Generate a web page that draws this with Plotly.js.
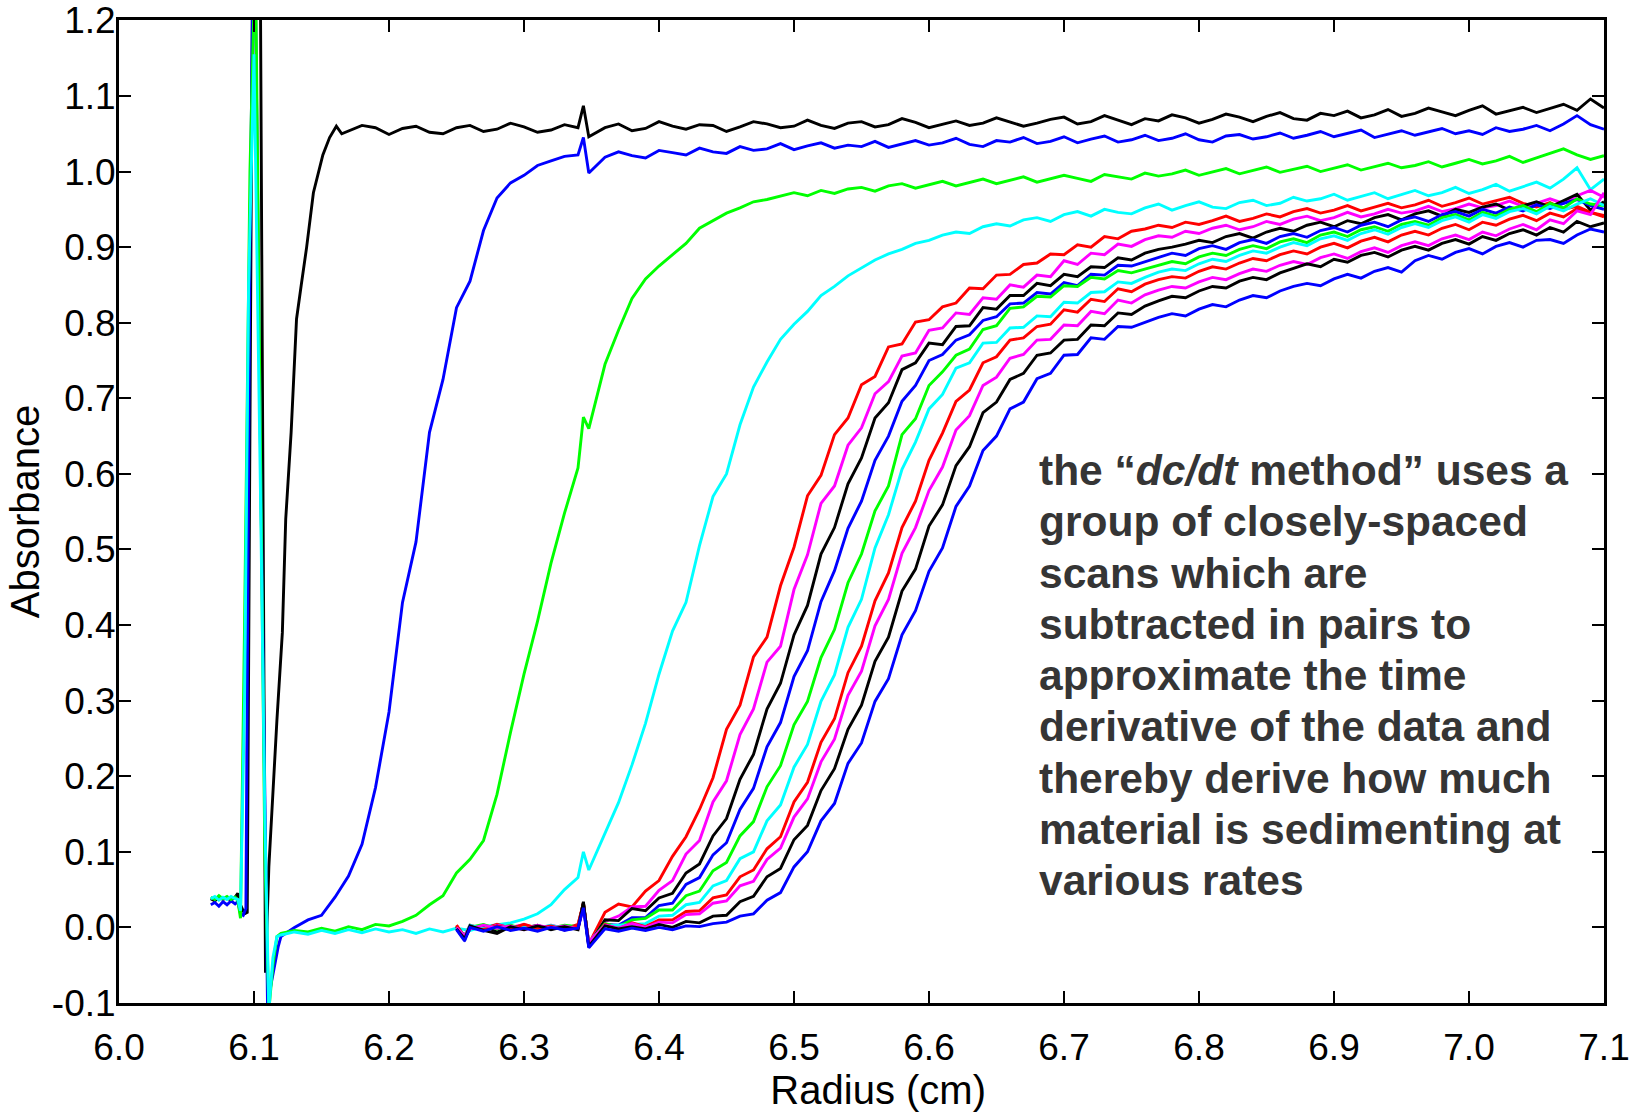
<!DOCTYPE html>
<html>
<head>
<meta charset="utf-8">
<script src="https://cdn.plot.ly/plotly-3.0.1.min.js"></script>
<style>html,body{margin:0;padding:0;background:#fff;}#chart{width:1642px;height:1112px;}</style>
</head>
<body>
<div id="chart"></div>
<script>
// ---------- shared radius grids ----------
const gridA = [6.12,6.13,6.14,6.15,6.16,6.17,6.18,6.19,6.20,6.21,6.22,6.23,6.24,6.25,6.26,6.27,6.28,6.29,6.30,6.31,6.32,6.33,6.34,6.344,6.348,
6.36,6.37,6.38,6.39,6.40,6.41,6.42,6.43,6.44,6.45,6.46,6.47,6.48,6.49,6.50,6.51,6.52,6.53,6.54,6.55,6.56,6.57,6.58,6.59,6.60,
6.61,6.62,6.63,6.64,6.65,6.66,6.67,6.68,6.69,6.70,6.71,6.72,6.73,6.74,6.75,6.76,6.77,6.78,6.79,6.80,6.81,6.82,6.83,6.84,6.85,
6.86,6.87,6.88,6.89,6.90,6.91,6.92,6.93,6.94,6.95,6.96,6.97,6.98,6.99,7.00,7.01,7.02,7.03,7.04,7.05,7.06,7.07,7.08,7.09,7.10];
const gridG = [6.25,6.256,6.26,6.27,6.28,6.29,6.30,6.31,6.32,6.33,6.34,6.344,6.348,
6.36,6.37,6.38,6.39,6.40,6.41,6.42,6.43,6.44,6.45,6.46,6.47,6.48,6.49,6.50,6.51,6.52,6.53,6.54,6.55,6.56,6.57,6.58,6.59,6.60,
6.61,6.62,6.63,6.64,6.65,6.66,6.67,6.68,6.69,6.70,6.71,6.72,6.73,6.74,6.75,6.76,6.77,6.78,6.79,6.80,6.81,6.82,6.83,6.84,6.85,
6.86,6.87,6.88,6.89,6.90,6.91,6.92,6.93,6.94,6.95,6.96,6.97,6.98,6.99,7.00,7.01,7.02,7.03,7.04,7.05,7.06,7.07,7.08,7.09,7.10];

// ---------- early scans (meniscus heads + tails) ----------
const scan1HeadX = [6.068,6.071,6.074,6.077,6.080,6.083,6.086,6.088,6.090,6.093,6.095,6.099,6.104,6.1085,6.111,6.114,6.117,6.121,6.1235,6.1275,6.1315,6.135,6.139,6.144,6.151,6.156,6.161,6.165];
const scan1HeadY = [0.038,0.035,0.040,0.037,0.039,0.036,0.040,0.045,0.030,0.018,0.020,1.30,1.50,-0.060,0.08,0.18,0.275,0.39,0.54,0.655,0.805,0.85,0.90,0.972,1.022,1.045,1.060,1.050];
const scan1Tail = [1.054,1.061,1.058,1.049,1.057,1.060,1.052,1.050,1.058,1.061,1.053,1.056,1.064,1.059,1.052,1.055,1.062,1.058,
1.087,1.046,
1.058,1.063,1.054,1.057,1.066,1.060,1.056,1.062,1.061,1.053,
1.059,1.066,1.063,1.058,1.060,1.068,1.061,1.057,1.064,1.066,
1.059,1.062,1.070,1.065,1.058,1.063,1.067,1.061,1.064,1.071,
1.066,1.060,1.064,1.069,1.072,1.063,1.066,1.074,1.068,1.062,
1.070,1.067,1.075,1.071,1.064,1.069,1.076,1.072,1.066,1.073,
1.078,1.070,1.068,1.077,1.074,1.080,1.071,1.075,1.082,1.073,
1.077,1.084,1.079,1.074,1.081,1.087,1.076,1.080,1.085,1.078,
1.083,1.089,1.081,1.096,1.084];

const scan2HeadX = [6.068,6.071,6.074,6.077,6.080,6.083,6.086,6.088,6.090,6.092,6.094,6.097,6.100,6.105,6.110,6.114,6.118];
const scan2HeadY = [0.030,0.033,0.028,0.034,0.030,0.035,0.031,0.034,0.018,0.016,0.025,0.90,1.40,0.60,-0.10,-0.06,-0.025];
const scan2Tail = [-0.012,0.000,0.010,0.016,0.040,0.068,0.110,0.185,0.285,0.430,
0.510,0.655,0.725,0.820,0.855,0.922,0.965,0.985,0.995,1.008,
1.014,1.020,1.022,
1.045,0.998,
1.019,1.026,1.021,1.018,1.028,1.025,1.022,1.031,1.026,1.024,
1.033,1.028,1.030,1.037,1.029,1.034,1.038,1.031,1.035,1.033,
1.040,1.032,1.036,1.041,1.035,1.038,1.044,1.036,1.033,1.041,
1.039,1.045,1.037,1.040,1.046,1.038,1.043,1.047,1.039,1.042,
1.048,1.041,1.044,1.050,1.042,1.039,1.047,1.049,1.043,1.046,
1.051,1.044,1.048,1.053,1.046,1.050,1.055,1.045,1.049,1.054,
1.048,1.052,1.057,1.050,1.054,1.049,1.058,1.053,1.056,1.061,
1.054,1.063,1.074,1.062,1.056];

const scan3HeadX = [6.068,6.071,6.074,6.077,6.080,6.083,6.086,6.088,6.090,6.093,6.097,6.101,6.105,6.108,6.111,6.114,6.117];
const scan3HeadY = [0.040,0.037,0.042,0.038,0.041,0.037,0.040,0.036,0.012,0.40,1.00,1.30,0.60,0.10,-0.11,-0.05,-0.012];
const scan3Tail = [-0.008,-0.004,-0.006,-0.001,-0.005,0.001,-0.003,0.004,0.002,0.008,
0.016,0.030,0.042,0.072,0.090,0.115,0.176,0.258,0.335,0.405,
0.482,0.548,0.608,
0.675,0.660,
0.745,0.790,0.832,0.858,0.875,0.890,0.905,0.925,0.935,0.945,
0.952,0.960,0.963,0.967,0.972,0.968,0.975,0.971,0.977,0.979,
0.974,0.981,0.984,0.978,0.983,0.987,0.981,0.985,0.990,0.984,
0.988,0.993,0.986,0.990,0.995,0.991,0.987,0.996,0.993,0.990,
0.998,0.994,0.997,1.002,0.995,0.999,1.004,0.997,1.001,1.006,
0.999,1.003,1.007,1.000,1.004,1.009,1.002,1.006,1.011,1.005,
1.008,1.013,1.006,1.011,1.016,1.010,1.014,1.020,1.012,1.018,
1.024,1.030,1.022,1.016,1.021];

const scan4HeadX = [6.068,6.071,6.074,6.077,6.080,6.083,6.086,6.088,6.090,6.093,6.096,6.100,6.105,6.108,6.111,6.114,6.117];
const scan4HeadY = [0.038,0.041,0.036,0.040,0.037,0.041,0.038,0.037,0.022,0.30,0.85,1.155,0.55,0.15,-0.11,-0.04,-0.012];
const scan4Tail = [-0.010,-0.006,-0.009,-0.004,-0.008,-0.003,-0.007,-0.002,-0.006,-0.003,
-0.008,-0.002,-0.006,-0.001,-0.004,0.001,0.004,0.006,0.011,0.018,
0.030,0.050,0.066,
0.100,0.076,
0.125,0.165,0.215,0.270,0.335,0.392,0.430,0.505,0.570,0.600,
0.665,0.715,0.748,0.778,0.798,0.815,0.836,0.848,0.862,0.872,
0.883,0.891,0.897,0.905,0.909,0.916,0.920,0.918,0.927,0.931,
0.928,0.936,0.939,0.934,0.943,0.947,0.941,0.950,0.946,0.944,
0.952,0.957,0.949,0.955,0.960,0.953,0.951,0.959,0.962,0.955,
0.958,0.966,0.961,0.964,0.970,0.962,0.967,0.972,0.964,0.969,
0.975,0.968,0.972,0.979,0.971,0.976,0.983,0.974,0.980,0.986,
0.978,0.990,1.005,0.976,0.990];

// ---------- closely spaced group (on gridG) ----------
const grpRed1 = [0.002,-0.012,0.003,-0.002,0.004,-0.001,0.003,-0.003,0.002,-0.002,0.004,0.032,-0.022,
0.020,0.031,0.027,0.048,0.062,0.094,0.120,0.156,0.198,0.262,
0.294,0.358,0.384,0.452,0.503,0.571,0.598,0.652,0.674,0.718,
0.729,0.768,0.772,0.801,0.804,0.821,0.826,0.846,0.845,0.863,
0.864,0.877,0.879,0.891,0.890,0.903,0.900,0.914,0.911,0.921,
0.924,0.929,0.926,0.933,0.930,0.935,0.941,0.934,0.938,0.944,
0.940,0.947,0.951,0.945,0.949,0.955,0.948,0.953,0.958,0.952,
0.956,0.962,0.954,0.959,0.965,0.957,0.961,0.966,0.958,0.953,
0.959,0.950,0.954,0.946,0.942];
const grpMag1 = [-0.001,-0.010,0.002,-0.003,0.003,0.000,0.004,-0.002,0.003,-0.001,0.002,0.030,-0.020,
0.008,0.015,0.027,0.028,0.049,0.062,0.097,0.115,0.166,0.194,
0.255,0.289,0.351,0.372,0.447,0.493,0.561,0.584,0.638,0.661,
0.706,0.722,0.756,0.760,0.790,0.793,0.813,0.811,0.833,0.831,
0.850,0.847,0.863,0.861,0.882,0.877,0.892,0.890,0.904,0.901,
0.910,0.915,0.913,0.921,0.918,0.925,0.929,0.923,0.927,0.934,
0.930,0.937,0.941,0.935,0.939,0.946,0.940,0.944,0.950,0.945,
0.948,0.954,0.947,0.951,0.957,0.952,0.955,0.961,0.954,0.958,
0.964,0.958,0.968,0.975,0.966];
const grpBlk1 = [0.001,-0.014,-0.002,0.003,-0.006,0.002,-0.001,0.003,-0.003,0.001,-0.001,0.033,-0.024,
0.010,0.009,0.025,0.022,0.039,0.045,0.072,0.084,0.121,0.144,
0.196,0.229,0.289,0.323,0.387,0.426,0.494,0.529,0.587,0.621,
0.674,0.694,0.738,0.747,0.773,0.771,0.795,0.796,0.820,0.818,
0.836,0.836,0.852,0.849,0.864,0.861,0.874,0.873,0.886,0.883,
0.892,0.897,0.900,0.904,0.909,0.906,0.914,0.918,0.912,0.920,
0.925,0.921,0.929,0.933,0.927,0.935,0.931,0.939,0.943,0.936,
0.944,0.948,0.941,0.950,0.946,0.953,0.957,0.949,0.955,0.960,
0.953,0.962,0.970,0.949,0.960];
const grpBlu1 = [-0.002,-0.016,0.001,-0.004,0.002,-0.003,0.001,-0.002,0.002,-0.004,0.000,0.028,-0.026,
0.004,0.003,0.013,0.013,0.029,0.032,0.057,0.066,0.096,0.112,
0.156,0.184,0.239,0.271,0.332,0.366,0.431,0.472,0.528,0.564,
0.618,0.650,0.696,0.717,0.750,0.758,0.777,0.784,0.803,0.808,
0.825,0.826,0.840,0.838,0.853,0.849,0.864,0.863,0.876,0.875,
0.881,0.887,0.892,0.889,0.898,0.902,0.897,0.906,0.910,0.905,
0.914,0.918,0.913,0.922,0.926,0.920,0.929,0.933,0.927,0.936,
0.940,0.934,0.943,0.947,0.941,0.950,0.945,0.953,0.948,0.956,
0.951,0.958,0.963,0.955,0.950];
const grpGrn1 = [0.002,-0.011,0.000,0.004,-0.002,0.003,-0.002,0.002,-0.001,0.003,0.001,0.030,-0.021,
0.005,0.001,0.010,0.012,0.023,0.023,0.042,0.048,0.075,0.086,
0.121,0.140,0.186,0.214,0.268,0.299,0.357,0.394,0.456,0.494,
0.551,0.584,0.652,0.673,0.717,0.735,0.757,0.765,0.791,0.796,
0.819,0.821,0.835,0.834,0.849,0.848,0.860,0.858,0.869,0.866,
0.871,0.876,0.881,0.878,0.887,0.892,0.889,0.897,0.902,0.898,
0.907,0.911,0.906,0.916,0.920,0.914,0.923,0.927,0.921,0.930,
0.934,0.929,0.939,0.943,0.936,0.946,0.941,0.950,0.955,0.947,
0.958,0.952,0.964,0.957,0.955];
const grpCyn1 = [-0.001,-0.012,0.003,-0.002,0.001,-0.003,0.002,-0.001,0.003,-0.002,0.002,0.029,-0.022,
0.002,0.003,0.004,0.005,0.015,0.016,0.030,0.033,0.055,0.062,
0.091,0.100,0.141,0.162,0.212,0.242,0.299,0.334,0.397,0.434,
0.502,0.546,0.606,0.642,0.686,0.705,0.740,0.747,0.773,0.774,
0.793,0.794,0.809,0.808,0.827,0.826,0.840,0.841,0.854,0.852,
0.860,0.867,0.871,0.869,0.878,0.884,0.881,0.889,0.895,0.892,
0.900,0.906,0.902,0.911,0.915,0.909,0.918,0.923,0.917,0.926,
0.931,0.926,0.935,0.940,0.933,0.943,0.938,0.947,0.951,0.944,
0.954,0.948,0.957,0.964,0.955];
const grpRed2 = [0.003,-0.013,0.001,-0.003,0.002,-0.002,0.004,-0.001,0.002,-0.003,0.003,0.031,-0.023,
0.004,-0.002,0.006,0.001,0.010,0.010,0.021,0.022,0.039,0.043,
0.067,0.076,0.104,0.120,0.166,0.192,0.245,0.276,0.337,0.372,
0.432,0.469,0.529,0.564,0.618,0.654,0.696,0.711,0.747,0.755,
0.777,0.780,0.795,0.798,0.817,0.814,0.831,0.828,0.845,0.841,
0.851,0.857,0.861,0.859,0.868,0.874,0.871,0.879,0.885,0.882,
0.890,0.895,0.891,0.900,0.905,0.899,0.908,0.913,0.907,0.916,
0.921,0.916,0.925,0.930,0.923,0.933,0.929,0.937,0.942,0.935,
0.945,0.940,0.951,0.946,0.940];
const grpMag2 = [0.000,-0.011,-0.002,0.003,-0.001,0.002,-0.003,0.003,-0.001,0.002,-0.002,0.028,-0.020,
0.003,-0.001,0.005,0.000,0.007,0.006,0.017,0.018,0.032,0.035,
0.055,0.061,0.090,0.105,0.146,0.170,0.219,0.249,0.307,0.339,
0.399,0.434,0.495,0.529,0.578,0.609,0.658,0.677,0.717,0.728,
0.753,0.758,0.777,0.778,0.797,0.796,0.815,0.812,0.830,0.826,
0.837,0.843,0.848,0.846,0.854,0.860,0.857,0.865,0.871,0.868,
0.876,0.881,0.877,0.886,0.891,0.885,0.894,0.899,0.893,0.902,
0.907,0.902,0.911,0.916,0.910,0.920,0.915,0.924,0.930,0.923,
0.936,0.931,0.948,0.943,0.972];
const grpBlk2 = [-0.002,-0.015,0.002,-0.004,-0.008,0.001,-0.003,0.002,-0.002,0.001,-0.003,0.034,-0.025,
0.002,-0.002,0.001,-0.002,0.004,0.000,0.008,0.006,0.015,0.016,
0.034,0.041,0.067,0.078,0.116,0.135,0.181,0.210,0.262,0.294,
0.352,0.384,0.445,0.474,0.531,0.559,0.611,0.636,0.681,0.695,
0.725,0.733,0.757,0.760,0.777,0.778,0.797,0.796,0.813,0.811,
0.822,0.829,0.835,0.833,0.842,0.848,0.846,0.855,0.860,0.857,
0.866,0.872,0.878,0.874,0.884,0.880,0.889,0.893,0.887,0.896,
0.901,0.896,0.905,0.910,0.904,0.914,0.909,0.918,0.923,0.916,
0.926,0.920,0.934,0.927,0.932];
const grpBlu2 = [-0.003,-0.018,0.000,-0.005,0.001,-0.004,-0.001,-0.005,0.000,-0.003,-0.001,0.026,-0.027,
-0.002,-0.005,-0.001,-0.004,0.000,-0.003,0.002,0.001,0.005,0.007,
0.015,0.018,0.036,0.046,0.080,0.100,0.141,0.164,0.217,0.244,
0.299,0.329,0.387,0.419,0.471,0.502,0.557,0.584,0.631,0.650,
0.686,0.695,0.726,0.733,0.757,0.758,0.780,0.778,0.795,0.794,
0.801,0.807,0.812,0.809,0.818,0.824,0.821,0.830,0.836,0.833,
0.842,0.848,0.852,0.849,0.858,0.864,0.859,0.868,0.873,0.867,
0.882,0.889,0.884,0.893,0.898,0.891,0.901,0.906,0.900,0.909,
0.910,0.905,0.916,0.924,0.920];

// ---------- ticks & text ----------
const xTickVals = [6.0,6.1,6.2,6.3,6.4,6.5,6.6,6.7,6.8,6.9,7.0,7.1];
const xTickText = ['6.0','6.1','6.2','6.3','6.4','6.5','6.6','6.7','6.8','6.9','7.0','7.1'];
const yTickVals = [-0.1,0.0,0.1,0.2,0.3,0.4,0.5,0.6,0.7,0.8,0.9,1.0,1.1,1.2];
const yTickText = ['-0.1','0.0','0.1','0.2','0.3','0.4','0.5','0.6','0.7','0.8','0.9','1.0','1.1','1.2'];
const noteLines = ['the “<i>dc/dt</i> method” uses a','group of closely-spaced','scans which are','subtracted in pairs to','approximate the time','derivative of the data and','thereby derive how much','material is sedimenting at','various rates'];

const C = {black:'#000000', blue:'#0000ff', green:'#00ff00', cyan:'#00ffff', red:'#ff0000', magenta:'#ff00ff'};
const LW = 2.9;

const series = [
  {x: scan1HeadX.concat(gridA.slice(5)), y: scan1HeadY.concat(scan1Tail), c: C.black},
  {x: scan2HeadX.concat(gridA), y: scan2HeadY.concat(scan2Tail), c: C.blue},
  {x: scan3HeadX.concat(gridA), y: scan3HeadY.concat(scan3Tail), c: C.green},
  {x: scan4HeadX.concat(gridA), y: scan4HeadY.concat(scan4Tail), c: C.cyan},
  {x: gridG, y: grpRed1, c: C.red},
  {x: gridG, y: grpMag1, c: C.magenta},
  {x: gridG, y: grpBlk1, c: C.black},
  {x: gridG, y: grpBlu1, c: C.blue},
  {x: gridG, y: grpGrn1, c: C.green},
  {x: gridG, y: grpCyn1, c: C.cyan},
  {x: gridG, y: grpRed2, c: C.red},
  {x: gridG, y: grpMag2, c: C.magenta},
  {x: gridG, y: grpBlk2, c: C.black},
  {x: gridG, y: grpBlu2, c: C.blue}
];

const traces = series.map(s => ({
  type: 'scatter', mode: 'lines', x: s.x, y: s.y,
  line: {color: s.c, width: LW}, hoverinfo: 'skip'
}));

const FONT = 'Liberation Sans, Arial, Helvetica, sans-serif';
const axisCommon = {
  showline: true, linewidth: 3, linecolor: '#000', mirror: 'ticks',
  ticks: 'inside', ticklen: 12, tickwidth: 2, tickcolor: '#000',
  showgrid: false, zeroline: false,
  tickfont: {family: FONT, size: 37, color: '#000'}
};

const noteAnnotations = noteLines.map((t, i) => ({
  xref: 'paper', yref: 'paper', x: 0.618, y: (1003 - (470.6 + 51.25 * i)) / 983,
  xanchor: 'left', yanchor: 'middle', align: 'left', showarrow: false,
  text: t,
  font: {family: FONT, size: 42.5, color: '#353535', weight: 'bold'}
}));

const layout = {
  width: 1642, height: 1112,
  margin: {l: 119, r: 38, t: 20, b: 109, pad: 0},
  paper_bgcolor: '#fff', plot_bgcolor: '#fff',
  showlegend: false,
  xaxis: Object.assign({}, axisCommon, {
    range: [6.0, 7.1], tickmode: 'array', tickvals: xTickVals, ticktext: xTickText,
    ticklabelstandoff: 10,
    title: {text: '\u200b\u00a0\u00a0\u00a0Radius (cm)', font: {family: FONT, size: 40, color: '#000'}, standoff: 8}
  }),
  yaxis: Object.assign({}, axisCommon, {
    range: [-0.1, 1.2005], tickmode: 'array', tickvals: yTickVals, ticktext: yTickText,
    ticklabelstandoff: -7,
    title: {text: 'Absorbance', font: {family: FONT, size: 40, color: '#000'}, standoff: 0}
  }),
  annotations: noteAnnotations
};

Plotly.newPlot('chart', traces, layout, {staticPlot: true, displayModeBar: false});
</script>
</body>
</html>
